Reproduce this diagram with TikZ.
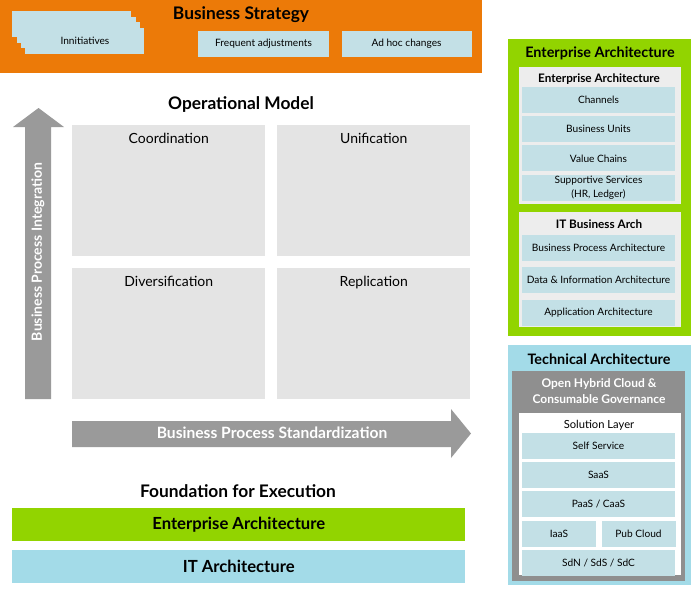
\documentclass[tikz,border=0pt]{standalone}
\usepackage{fontspec}
\setmainfont{Lato}
\usepackage{xcolor}
\usepackage{tikz}
\usetikzlibrary{positioning}

\definecolor{rhorange}{HTML}{EC7A08}
\definecolor{rhgreen}{HTML}{92D400}
\definecolor{rhblue}{HTML}{A3DBE8}
\definecolor{itemblue}{HTML}{C3E0E6}
\definecolor{quadgray}{HTML}{E4E4E4}
\definecolor{arrowgray}{HTML}{9A9A9A}
\definecolor{panelgray}{HTML}{EDEDED}
\definecolor{cloudgray}{HTML}{8F8F8F}

\begin{document}
\begin{tikzpicture}[
    x=0.75pt, y=-0.75pt,
    node distance=2pt,
    every node/.style={inner sep=0pt},
    title/.style={font=\bfseries\fontsize{13}{15}\selectfont},
    subtitle/.style={font=\bfseries\fontsize{10.8}{13}\selectfont},
    boxtitle/.style={font=\bfseries\fontsize{8.8}{10}\selectfont},
    item/.style={rectangle, fill=itemblue, minimum width=114.75pt,
                minimum height=19.5pt, align=center, font=\fontsize{7.6}{10}\selectfont},
    stack/.style={rectangle, fill=itemblue, anchor=north west, minimum width=89.25pt,
                minimum height=19.5pt, font=\fontsize{7.6}{9}\selectfont},
    panel/.style={rectangle, anchor=north west},
    quad/.style={rectangle, fill=quadgray, anchor=north west, minimum width=144.75pt,
                minimum height=98.25pt},
    quadlabel/.style={anchor=north, yshift=-6pt, font=\fontsize{10.5}{12}\selectfont},
    bar/.style={rectangle, anchor=north west, minimum width=339.75pt, minimum height=24.75pt,
                font=\bfseries\fontsize{12.5}{14}\selectfont},
    flow/.style={fill=arrowgray}
]
\useasboundingbox (0,0) rectangle (693,590);

% === BUSINESS STRATEGY ===
\node[panel, fill=rhorange, minimum width=361.5pt, minimum height=54.75pt] (strategy) at (0,0) {};
\node[title] (strattitle) at (241,15) {Business Strategy};
\foreach \i in {0,1,2}
  \node[stack] (init\i) at (12+4.4*\i, 11+5.6*\i) {};
\node[stack] (init) at (25.2,27.8) {Innitiatives};
\node[item, minimum width=98.25pt] (freq) at (263.5,44) {Frequent adjustments};
\node[item, minimum width=97.5pt, right=9pt of freq] (adhoc) {Ad hoc changes};

% === OPERATIONAL MODEL ===
\node[title] (optitle) at (241,105) {Operational Model};
\node[quad, label={[quadlabel]north:Coordination}] (coord) at (72,125) {};
\node[quad, label={[quadlabel]north:Unification}] (unif) at (277,125) {};
\node[quad, label={[quadlabel]north:Diversification}] (divers) at (72,268) {};
\node[quad, label={[quadlabel]north:Replication}] (repl) at (277,268) {};

\fill[flow] (25,399) -- (25,127) -- (13,127) -- (38.5,108) -- (64,127) -- (51,127) -- (51,399) -- cycle;
\node[rotate=90, white, font=\bfseries\fontsize{10.5}{12}\selectfont] (integr) at (38,252)
  {Business Process Integration};
\fill[flow] (72,421) -- (451,421) -- (451,409) -- (471,433.5) -- (451,458) -- (451,447) -- (72,447) -- cycle;
\node[white, font=\bfseries\fontsize{11.7}{13}\selectfont] (standard) at (272,433)
  {Business Process Standardization};

% === FOUNDATION ===
\node[title] (foundtitle) at (238,491) {Foundation for Execution};
\node[bar, fill=rhgreen] (eabar) at (12,508) {Enterprise Architecture};
\node[bar, fill=rhblue] (itbar) at (12,550) {IT Architecture};

% === ENTERPRISE ARCHITECTURE ===
\node[panel, fill=rhgreen, minimum width=137.25pt, minimum height=222.75pt] (eapanel) at (508,39) {};
\node[subtitle] (eatitle) at (600,53) {Enterprise Architecture};
\node[panel, fill=panelgray, minimum width=121.5pt, minimum height=102.75pt] (eabox) at (519,67) {};
\node[boxtitle] (eaboxtitle) at (599,79) {Enterprise Architecture};
\node[item] (chan) at (598.5,100) {Channels};
\node[item, below=of chan] (units) {Business Units};
\node[item, below=of units] (value) {Value Chains};
\node[item, below=of value] (supp) {Supportive Services\\(HR, Ledger)};

\node[panel, fill=panelgray, minimum width=121.5pt, minimum height=86.25pt] (itbox) at (519,212) {};
\node[boxtitle] (itboxtitle) at (599,224) {IT Business Arch};
\node[item] (bpa) at (598.5,247.5) {Business Process Architecture};
\node[item, below=4.5pt of bpa] (dia) {Data \& Information Architecture};
\node[item, below=4.5pt of dia] (appl) {Application Architecture};

% === TECHNICAL ARCHITECTURE ===
\node[panel, fill=rhblue, minimum width=137.25pt, minimum height=180pt] (techpanel) at (508,345) {};
\node[subtitle] (techtitle) at (599,359) {Technical Architecture};
\node[panel, fill=cloudgray, minimum width=129.75pt, minimum height=157.5pt] (cloud) at (512,371) {};
\node[white, align=center, font=\bfseries\fontsize{9}{12}\selectfont] (cloudtitle) at (599,391)
  {Open Hybrid Cloud \&\\Consumable Governance};
\node[panel, fill=white, minimum width=121.5pt, minimum height=121.5pt] (solution) at (519,413) {};
\node[font=\fontsize{8.4}{10}\selectfont] (soltitle) at (599,425) {Solution Layer};
\node[item] (self) at (598.5,446) {Self Service};
\node[item, below=of self] (saas) {SaaS};
\node[item, below=of saas] (paas) {PaaS / CaaS};
\node[item, minimum width=55.5pt, below=of paas.south west, anchor=north west] (iaas) {IaaS};
\node[item, minimum width=55.5pt, right=3.75pt of iaas] (pub) {Pub Cloud};
\node[item, below=of iaas.south west, anchor=north west] (sdn) {SdN / SdS / SdC};

\end{tikzpicture}
\end{document}
